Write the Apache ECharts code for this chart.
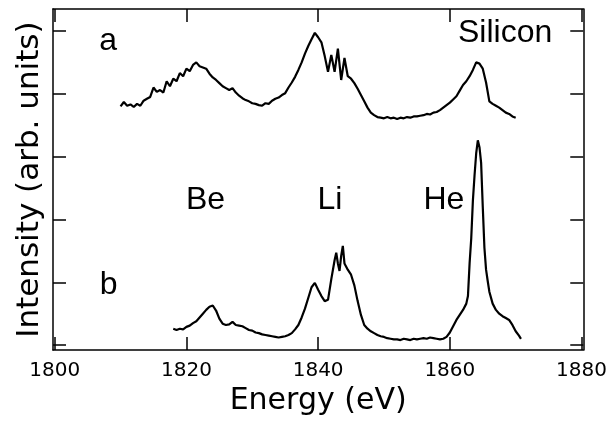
<!DOCTYPE html>
<html>
<head>
<meta charset="utf-8">
<script src="https://cdn.jsdelivr.net/npm/echarts@6/dist/echarts.min.js"></script>
<style>
html,body{margin:0;padding:0;background:#fff;}
#chart{width:610px;height:421px;}
</style>
</head>
<body>
<div id="chart"></div>
<script>
// ---- data ----
const xTicks = [1800, 1820, 1840, 1860, 1880];
const yTicks = [0, 1, 2, 3, 4, 5];

// Spectrum a (upper trace)
const aEnergy = [
  1810,1810.5,1811,1811.5,1812,1812.5,1813,1813.5,1814,1814.5,
  1815,1815.5,1816,1816.5,1817,1817.5,1818,1818.5,1819,1819.5,
  1820,1820.5,1821,1821.5,1822,1822.5,1823,1823.5,1824,1824.5,
  1825,1825.5,1826,1826.5,1827,1827.5,1828,1828.5,1829,1829.5,
  1830,1830.5,1831,1831.5,1832,1832.5,1833,1833.5,1834,1834.5,
  1835,1835.5,1836,1836.5,1837,1837.5,1838,1838.5,1839,1839.5,
  1840,1840.5,1841,1841.5,1842,1842.5,1843,1843.5,1844,1844.5,
  1845,1845.5,1846,1846.5,1847,1847.5,1848,1848.5,1849,1849.5,
  1850,1850.5,1851,1851.5,1852,1852.5,1853,1853.5,1854,1854.5,
  1855,1855.5,1856,1856.5,1857,1857.5,1858,1858.5,1859,1859.5,
  1860,1860.5,1861,1861.5,1862,1862.5,1863,1863.5,1864,1864.5,
  1865,1865.5,1866,1866.5,1867,1867.5,1868,1868.5,1869,1869.5,
  1870
];
const aIntensity = [
  3.80,3.87,3.81,3.83,3.79,3.84,3.81,3.89,3.92,3.95,
  4.10,4.03,4.06,4.02,4.20,4.12,4.24,4.20,4.33,4.28,
  4.40,4.36,4.46,4.50,4.44,4.42,4.40,4.32,4.26,4.22,
  4.17,4.12,4.09,4.06,4.09,4.02,3.97,3.93,3.90,3.88,
  3.85,3.84,3.82,3.81,3.85,3.84,3.89,3.92,3.94,3.98,
  4.01,4.10,4.18,4.27,4.38,4.50,4.64,4.76,4.87,4.97,
  4.90,4.82,4.60,4.35,4.62,4.35,4.72,4.22,4.57,4.28,
  4.24,4.17,4.08,3.98,3.88,3.78,3.70,3.66,3.63,3.62,
  3.61,3.63,3.61,3.62,3.60,3.62,3.61,3.63,3.62,3.64,
  3.64,3.65,3.66,3.68,3.67,3.70,3.71,3.74,3.78,3.82,
  3.86,3.91,3.96,4.05,4.14,4.20,4.28,4.38,4.50,4.48,
  4.40,4.18,3.88,3.84,3.81,3.78,3.74,3.70,3.68,3.64,
  3.62
];

// Spectrum b (lower trace)
const bEnergy = [
  1818,1818.5,1819,1819.5,1820,1820.5,1821,1821.5,1822,1822.5,
  1823,1823.5,1824,1824.5,1825,1825.5,1826,1826.5,1827,1827.5,
  1828,1828.5,1829,1829.5,1830,1830.5,1831,1831.5,1832,1832.5,
  1833,1833.5,1834,1834.5,1835,1835.5,1836,1836.5,1837,1837.5,
  1838,1838.5,1839,1839.5,1840,1840.5,1841,1841.5,1842,1842.5,
  1842.75,1843,1843.25,1843.5,1843.75,1844,
  1844.5,1845,1845.5,1846,1846.5,1847,1847.5,1848,1848.5,1849,
  1849.5,1850,1850.5,1851,1851.5,1852,1852.5,1853,1853.5,1854,
  1854.5,1855,1855.5,1856,1856.5,1857,1857.5,1858,1858.5,1859,
  1859.5,1860,1860.5,1861,1861.5,1862,1862.5,1862.75,
  1863,1863.25,1863.5,1863.75,1864,1864.25,1864.5,1864.75,1865,1865.25,1865.5,1865.75,
  1866,1866.5,1867,1867.5,1868,1868.5,1869,1869.5,1870,1870.5,1870.8
];
const bIntensity = [
  0.26,0.24,0.26,0.25,0.29,0.31,0.35,0.38,0.44,0.50,
  0.56,0.61,0.63,0.55,0.42,0.34,0.32,0.33,0.37,0.32,
  0.31,0.30,0.27,0.24,0.23,0.20,0.19,0.17,0.16,0.15,
  0.14,0.13,0.12,0.13,0.14,0.16,0.19,0.25,0.32,0.44,
  0.58,0.75,0.92,0.99,0.88,0.78,0.70,0.72,1.05,1.35,
  1.47,1.30,1.18,1.42,1.58,1.30,
  1.20,1.12,0.95,0.70,0.48,0.32,0.26,0.22,0.19,0.16,
  0.14,0.13,0.11,0.10,0.09,0.09,0.08,0.10,0.09,0.08,
  0.10,0.09,0.10,0.11,0.10,0.12,0.11,0.10,0.09,0.10,
  0.13,0.20,0.30,0.40,0.48,0.56,0.66,0.78,
  1.30,1.70,2.30,2.70,3.05,3.26,3.15,2.90,2.20,1.55,1.20,1.02,
  0.85,0.66,0.56,0.50,0.46,0.43,0.40,0.32,0.22,0.15,0.10
];

// Text annotations and their anchor points (data coordinates)
const annotationText = ['a', 'b', 'Silicon', 'Be', 'Li', 'He'];
const annotationX = [1808.1, 1808.2, 1868.4, 1822.9, 1841.8, 1859.1];
const annotationY = [4.83, 0.95, 4.97, 2.30, 2.30, 2.30];

// ---- chart ----
const zip = (xs, ys) => xs.map((x, i) => [x, ys[i]]);
const chart = echarts.init(document.getElementById('chart'), null, {renderer: 'canvas'});

const tickFont = 'DejaVu Sans';
const axisCommon = {
  type: 'value',
  axisLine: {show: true, onZero: false, lineStyle: {color: '#000', width: 1.5}},
  splitLine: {show: false},
};

chart.setOption({
  animation: false,
  backgroundColor: '#fff',
  grid: {left: 53, right: 24, top: 9, bottom: 70, containLabel: false},
  xAxis: [
    Object.assign({}, axisCommon, {
      position: 'bottom',
      min: 1799.74, max: 1880.26,
      axisTick: {show: true, inside: true, length: 13, customValues: xTicks, lineStyle: {color: '#000', width: 1.5}},
      axisLabel: {show: true, customValues: xTicks, margin: 11, color: '#000',
        fontFamily: tickFont, fontSize: 20, formatter: v => String(Math.round(v))},
      name: 'Energy (eV)', nameLocation: 'middle', nameGap: 35,
      nameTextStyle: {color: '#000', fontFamily: tickFont, fontSize: 30}
    }),
    Object.assign({}, axisCommon, {
      position: 'top',
      min: 1799.74, max: 1880.26,
      axisTick: {show: true, inside: true, length: 13, customValues: xTicks, lineStyle: {color: '#000', width: 1.5}},
      axisLabel: {show: false}
    })
  ],
  yAxis: [
    Object.assign({}, axisCommon, {
      position: 'left',
      min: -0.08, max: 5.35,
      axisTick: {show: true, inside: true, length: 13, customValues: yTicks, lineStyle: {color: '#000', width: 1.5}},
      axisLabel: {show: false},
      name: 'Intensity (arb. units)', nameLocation: 'middle', nameGap: 8,
      nameTextStyle: {color: '#000', fontFamily: tickFont, fontSize: 31}
    }),
    Object.assign({}, axisCommon, {
      position: 'right',
      min: -0.08, max: 5.35,
      axisTick: {show: true, inside: true, length: 13, customValues: yTicks, lineStyle: {color: '#000', width: 1.5}},
      axisLabel: {show: false}
    })
  ],
  series: [
    {
      name: 'a', type: 'line', xAxisIndex: 0, yAxisIndex: 0,
      data: zip(aEnergy, aIntensity),
      showSymbol: false, symbol: 'none',
      lineStyle: {color: '#000', width: 2.2}, silent: true
    },
    {
      name: 'b', type: 'line', xAxisIndex: 0, yAxisIndex: 0,
      data: zip(bEnergy, bIntensity),
      showSymbol: false, symbol: 'none',
      lineStyle: {color: '#000', width: 2.2}, silent: true
    },
    {
      name: 'labels', type: 'scatter', xAxisIndex: 0, yAxisIndex: 0,
      symbolSize: 0, silent: true,
      itemStyle: {opacity: 1, color: '#000'},
      data: annotationText.map((t, i) => ({name: t, value: [annotationX[i], annotationY[i]]})),
      label: {
        show: true, position: 'inside', formatter: p => p.name,
        color: '#000', opacity: 1, fontFamily: 'Liberation Sans', fontSize: 32,
        align: 'center', verticalAlign: 'middle'
      }
    }
  ]
});
</script>
</body>
</html>
